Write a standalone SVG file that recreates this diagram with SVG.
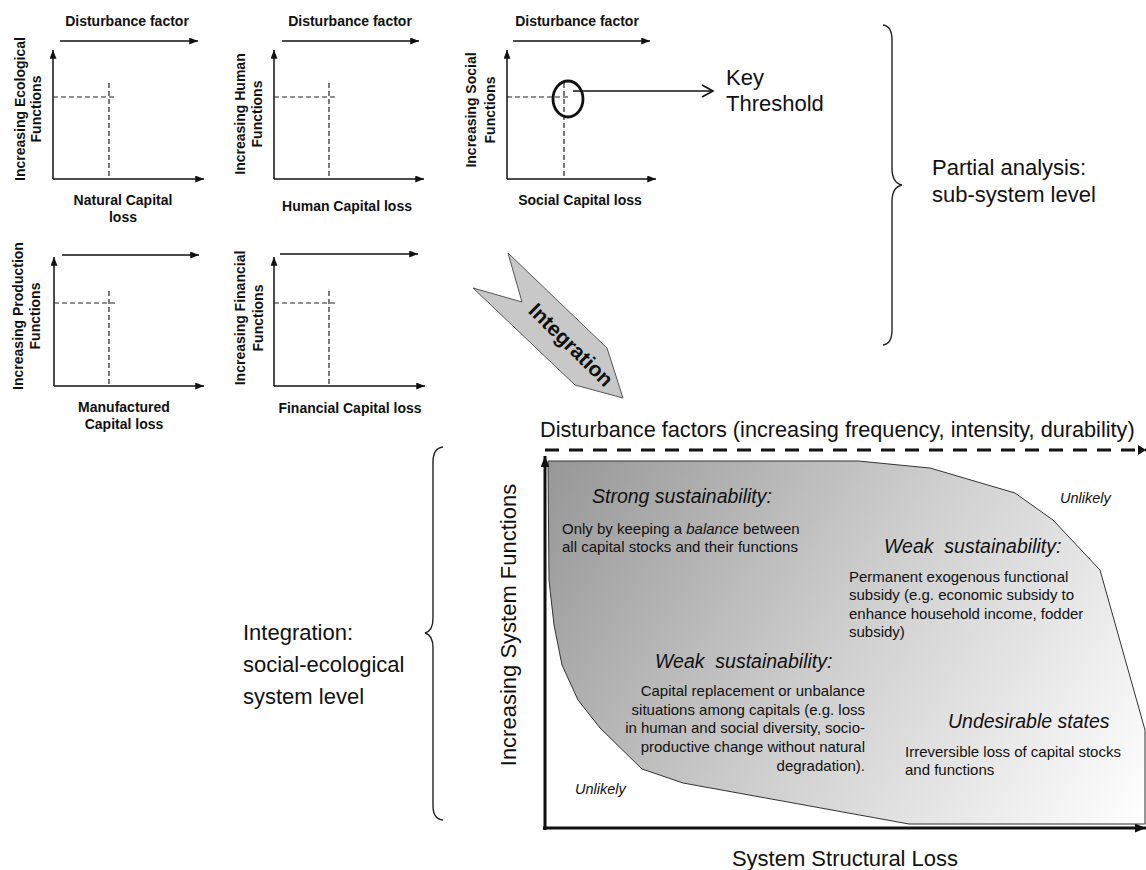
<svg xmlns="http://www.w3.org/2000/svg" width="1146" height="870" viewBox="0 0 1146 870">
<style>
text{font-family:"Liberation Sans",Arial,sans-serif;fill:#111}
.b{font-weight:bold;font-size:14px}
.m{text-anchor:middle}
.ax{stroke:#111;stroke-width:1.5;fill:none}
.ds{stroke:#222;stroke-width:1.2;stroke-dasharray:5 3;fill:none}
.big{font-size:22px}
.it{font-style:italic;font-size:19.5px}
.sm{font-size:15px}
.ul{font-style:italic;font-size:14.5px}
.br{stroke:#222;stroke-width:1.4;fill:none}
</style>
<defs>
<marker id="ah" viewBox="0 0 10 8" refX="10" refY="4" markerWidth="9" markerHeight="7" markerUnits="userSpaceOnUse" orient="auto"><path d="M0,0 L10,4 L0,8 z" fill="#111"/></marker>
<marker id="ahb" viewBox="0 0 10 8" refX="10" refY="4" markerWidth="11" markerHeight="9" markerUnits="userSpaceOnUse" orient="auto"><path d="M0,0 L10,4 L0,8 z" fill="#111"/></marker>
<linearGradient id="gr" gradientUnits="userSpaceOnUse" x1="548" y1="461" x2="1145" y2="824">
<stop offset="0" stop-color="#979797"/><stop offset="0.5" stop-color="#cfcfcf"/><stop offset="1" stop-color="#ffffff"/>
</linearGradient>
</defs>

<g id="chart-natural">
<text class="b m" x="127" y="26">Disturbance factor</text>
<line class="ax" x1="60" y1="41" x2="198" y2="41" marker-end="url(#ah)"/>
<line class="ax" x1="53" y1="179" x2="53" y2="50" marker-end="url(#ah)"/>
<line class="ax" x1="53" y1="179" x2="204" y2="179" marker-end="url(#ah)"/>
<line class="ds" x1="53" y1="97" x2="115" y2="97"/>
<line class="ds" x1="109" y1="83" x2="109" y2="179"/>
<text class="b m" transform="translate(25,109) rotate(-90)">Increasing Ecological</text>
<text class="b m" transform="translate(41,109) rotate(-90)">Functions</text>
<text class="b m" x="123" y="205">Natural Capital</text>
<text class="b m" x="123" y="222">loss</text>
</g>

<g id="chart-human">
<text class="b m" x="350" y="26">Disturbance factor</text>
<line class="ax" x1="282" y1="41" x2="419" y2="41" marker-end="url(#ah)"/>
<line class="ax" x1="274" y1="179" x2="274" y2="50" marker-end="url(#ah)"/>
<line class="ax" x1="274" y1="179" x2="424" y2="179" marker-end="url(#ah)"/>
<line class="ds" x1="274" y1="97" x2="336" y2="97"/>
<line class="ds" x1="329" y1="83" x2="329" y2="179"/>
<text class="b m" transform="translate(245,114) rotate(-90)">Increasing Human</text>
<text class="b m" transform="translate(262,114) rotate(-90)">Functions</text>
<text class="b m" x="347" y="211">Human Capital loss</text>
</g>

<g id="chart-social">
<text class="b m" x="577" y="26">Disturbance factor</text>
<line class="ax" x1="513" y1="41" x2="650" y2="41" marker-end="url(#ah)"/>
<line class="ax" x1="507" y1="179" x2="507" y2="50" marker-end="url(#ah)"/>
<line class="ax" x1="507" y1="179" x2="656" y2="179" marker-end="url(#ah)"/>
<line class="ds" x1="507" y1="97" x2="570" y2="97"/>
<line class="ds" x1="564" y1="83" x2="564" y2="179"/>
<ellipse cx="568" cy="99" rx="15" ry="18" fill="none" stroke="#111" stroke-width="2.8"/>
<text class="b m" transform="translate(476,110) rotate(-90)">Increasing Social</text>
<text class="b m" transform="translate(495,110) rotate(-90)">Functions</text>
<text class="b m" x="580" y="205">Social Capital loss</text>
</g>

<g id="key-threshold">
<text class="big" x="726" y="85">Key</text>
<text class="big" x="726" y="111">Threshold</text>
</g>

<g id="chart-manufactured">
<line class="ax" x1="62" y1="255" x2="199" y2="255" marker-end="url(#ah)"/>
<line class="ax" x1="54" y1="386" x2="54" y2="257" marker-end="url(#ah)"/>
<line class="ax" x1="54" y1="386" x2="204" y2="386" marker-end="url(#ah)"/>
<line class="ds" x1="54" y1="303" x2="115" y2="303"/>
<line class="ds" x1="109" y1="291" x2="109" y2="386"/>
<text class="b m" transform="translate(23,316) rotate(-90)">Increasing Production</text>
<text class="b m" transform="translate(40,316) rotate(-90)">Functions</text>
<text class="b m" x="124" y="412">Manufactured</text>
<text class="b m" x="124" y="429">Capital loss</text>
</g>

<g id="chart-financial">
<line class="ax" x1="280" y1="254" x2="418" y2="254" marker-end="url(#ah)"/>
<line class="ax" x1="274" y1="386" x2="274" y2="257" marker-end="url(#ah)"/>
<line class="ax" x1="274" y1="386" x2="425" y2="386" marker-end="url(#ah)"/>
<line class="ds" x1="274" y1="303" x2="335" y2="303"/>
<line class="ds" x1="329" y1="291" x2="329" y2="386"/>
<text class="b m" transform="translate(245,318) rotate(-90)">Increasing Financial</text>
<text class="b m" transform="translate(263,318) rotate(-90)">Functions</text>
<text class="b m" x="350" y="413">Financial Capital loss</text>
</g>

<g id="partial-analysis">
<path class="br" d="M883,25 Q892,26 892,40 L892,168 Q892,183 902,185 Q892,187 892,202 L892,330 Q892,344 883,345"/>
<text class="big" x="932" y="175">Partial analysis:</text>
<text class="big" x="932" y="202">sub-system level</text>
</g>

<g id="integration-arrow">
<polygon points="508,253 607,348 623,398 575,385 473,288 522,302" fill="#c8c8c8" stroke="#555" stroke-width="1"/>
<text class="m" transform="translate(566,350) rotate(44.5)" style="font-weight:bold;font-size:21px">Integration</text>
</g>

<g id="integration-level">
<path class="br" d="M443,447 Q433,448 433,462 L433,618 Q433,631 425,633 Q433,635 433,648 L433,806 Q433,819 443,820"/>
<text class="big" x="243" y="640">Integration:</text>
<text class="big" x="243" y="672">social-ecological</text>
<text class="big" x="243" y="704">system level</text>
</g>

<g id="system-chart">
<polygon points="548,461 858,461 930,468 1015,493 1053,520 1100,570 1145,730 1145,824 909,824 683,783 642,769 600,728 578,700 562,665 554,625 549,580" fill="url(#gr)" stroke="#333" stroke-width="1"/>
<text x="540" y="437" style="font-size:21.7px">Disturbance factors (increasing frequency, intensity, durability)</text>
<line x1="545" y1="450" x2="1146" y2="450" stroke="#111" stroke-width="3" stroke-dasharray="14 10"/>
<path d="M1138,445 L1146,450 L1138,455 z" fill="#111"/>
<line x1="545" y1="830" x2="545" y2="456" stroke="#111" stroke-width="3" marker-end="url(#ahb)"/>
<line x1="543" y1="828" x2="1146" y2="828" stroke="#111" stroke-width="3" marker-end="url(#ahb)"/>
<text class="big m" transform="translate(516,625) rotate(-90)">Increasing System Functions</text>
<text class="big m" x="845" y="866">System Structural Loss</text>

<text class="it" x="592" y="503">Strong sustainability:</text>
<text class="sm" x="562" y="534">Only by keeping a <tspan font-style="italic">balance</tspan> between</text>
<text class="sm" x="562" y="552">all capital stocks and their functions</text>
<text class="ul" x="1060" y="503">Unlikely</text>

<text class="it" x="884" y="553" xml:space="preserve">Weak  sustainability:</text>
<text class="sm" x="849" y="582">Permanent exogenous functional</text>
<text class="sm" x="849" y="600">subsidy (e.g. economic subsidy to</text>
<text class="sm" x="849" y="619">enhance household income, fodder</text>
<text class="sm" x="849" y="637">subsidy)</text>

<text class="it" x="655" y="668" xml:space="preserve">Weak  sustainability:</text>
<g style="text-anchor:end">
<text class="sm" x="865" y="696">Capital replacement or unbalance</text>
<text class="sm" x="865" y="715">situations among capitals (e.g. loss</text>
<text class="sm" x="865" y="733">in human and social diversity, socio-</text>
<text class="sm" x="865" y="752">productive change without natural</text>
<text class="sm" x="865" y="771">degradation).</text>
</g>

<text class="it" x="948" y="728">Undesirable states</text>
<text class="sm" x="905" y="757">Irreversible loss of capital stocks</text>
<text class="sm" x="905" y="775">and functions</text>
<text class="ul" x="575" y="794">Unlikely</text>
</g>

<g id="connectors">
<line x1="573" y1="91" x2="713" y2="91" stroke="#111" stroke-width="1.6"/>
<path d="M702,85 L713,91 L702,97" fill="none" stroke="#111" stroke-width="1.6"/>
</g>
</svg>
